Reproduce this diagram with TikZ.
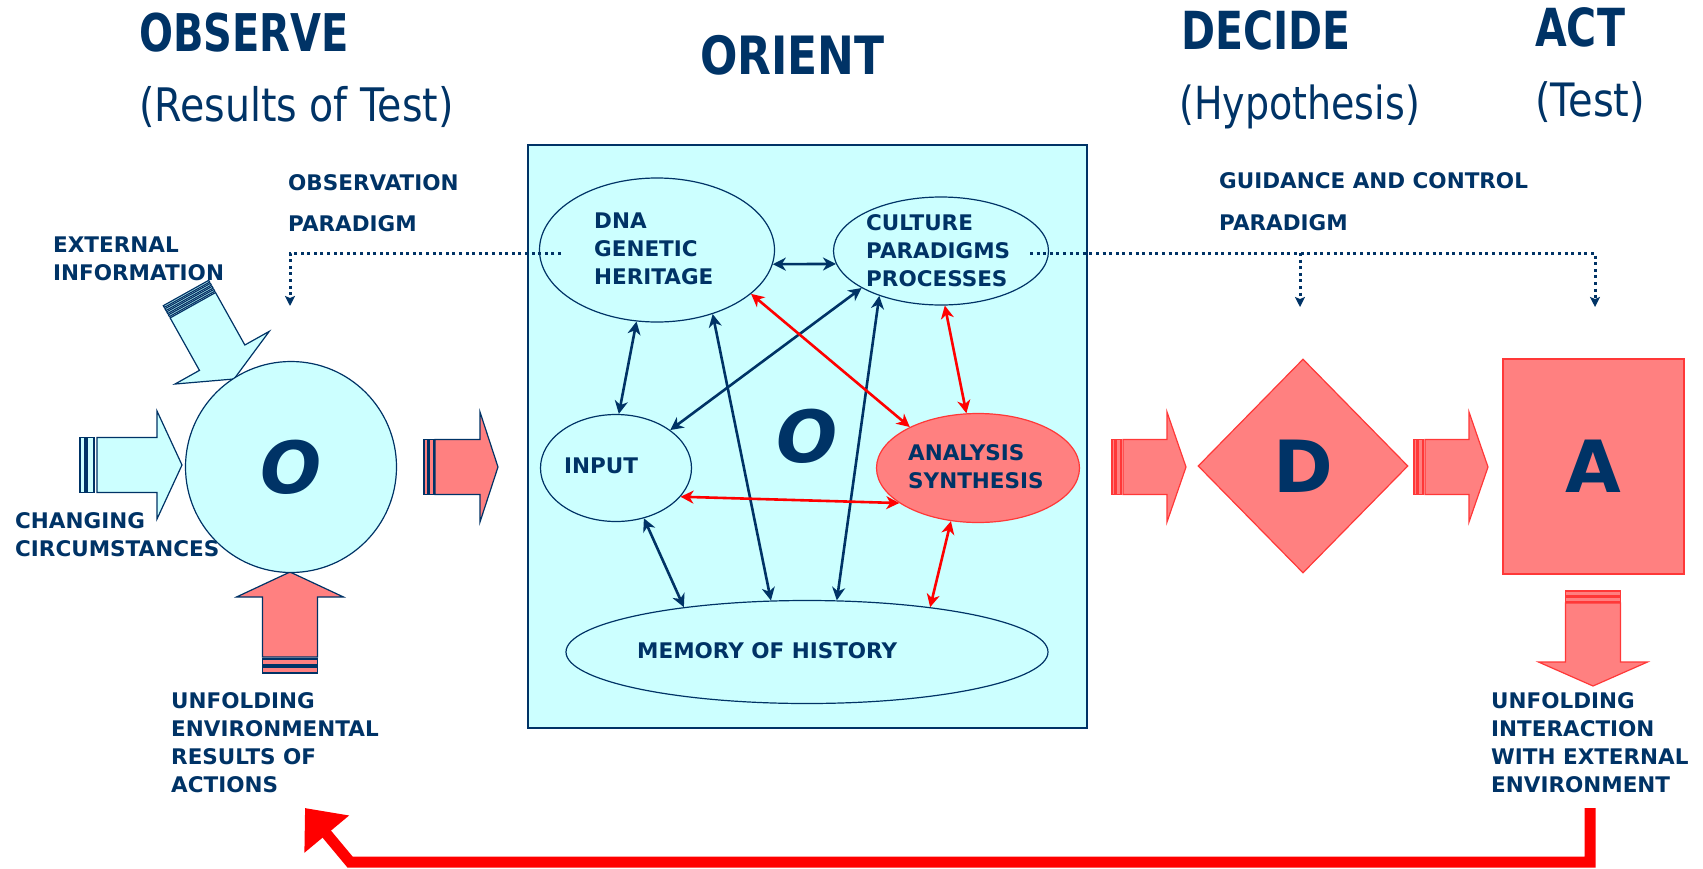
\documentclass[tikz,border=0pt]{standalone}
\usepackage{fontspec}
\setmainfont{DejaVu Sans}
\usetikzlibrary{arrows.meta,shapes.geometric}
\definecolor{navy}{HTML}{003366}
\definecolor{cyanfill}{HTML}{CCFFFF}
\definecolor{salmon}{HTML}{FF8080}
\definecolor{redline}{HTML}{FF0000}
\definecolor{redstroke}{HTML}{FF3838}
\newcommand\ml[1]{\begin{tabular}[t]{@{}l@{}}#1\end{tabular}}
\tikzset{
  pics/barrow/.style args={#1/#2/#3/#4/#5}{code={
    \path[pic actions] (#1,-#4) -- ({#2-#3},-#4) -- ({#2-#3},-#5) -- (#2,0) -- ({#2-#3},#5) -- ({#2-#3},#4) -- (#1,#4) -- cycle;
  }},
  pics/bar/.style args={#1/#2/#3}{code={
    \path[pic actions] (#1,-#3) rectangle (#2,#3);
  }},
}
\begin{document}
\begin{tikzpicture}[x=1pt,y=-1pt,
  lab/.style={font=\fontsize{21.5}{28}\selectfont\bfseries, text=navy, inner sep=0pt, anchor=base west},
  ttl/.style={font=\fontsize{41}{41}\selectfont\bfseries, text=navy, inner sep=0pt, anchor=base west},
  sub/.style={font=\fontsize{38}{38}\selectfont, text=navy, inner sep=0pt, anchor=base west},
  big/.style={font=\fontsize{72}{72}\selectfont\bfseries, text=navy},
  ell/.style={ellipse, draw=navy, line width=1.2pt, fill=cyanfill, inner sep=0pt},
  nav/.style={draw=navy, line width=2.6pt, {Stealth[length=13pt,width=13pt,inset=4pt]}-{Stealth[length=13pt,width=13pt,inset=4pt]}},
  redarr/.style={nav, draw=redline},
  dots/.style={draw=navy, line width=3pt, dash pattern=on 3pt off 3.6pt, -{Stealth[length=10pt,width=10pt,inset=2pt]}},
  cyanarrow/.style={transform shape, fill=cyanfill, draw=navy, line width=1.2pt},
  salarrow/.style={transform shape, fill=salmon, draw=navy, line width=1.2pt},
  salarrowr/.style={transform shape, fill=salmon, draw=redstroke, line width=1.2pt},
  fb/.style={draw=redline, line width=11pt, line join=miter, -{Triangle[length=34pt,width=56pt]}},
]
\useasboundingbox (0,0) rectangle (1703,868);

% ---------- titles ----------
\node[ttl, font=\fontsize{40}{40}\selectfont\bfseries] (tobs) at (139,51) {\scalebox{1}[1.3]{OBSERVE}};
\node[sub, font=\fontsize{39.5}{40}\selectfont] (sobs) at (139,121) {\scalebox{1}[1.17]{(Results of Test)}};
\node[ttl, font=\fontsize{44}{44}\selectfont\bfseries] (tori) at (700,74) {\scalebox{1}[1.2]{ORIENT}};
\node[ttl] (tdec) at (1181,49) {\scalebox{1}[1.28]{DECIDE}};
\node[ttl] (tact) at (1535,46) {\scalebox{1}[1.28]{ACT}};
\node[sub] (sdec) at (1179,119) {\scalebox{1}[1.2]{(Hypothesis)}};
\node[sub, font=\fontsize{40}{40}\selectfont] (sact) at (1535,116) {\scalebox{1}[1.15]{(Test)}};

% ---------- observe side block arrows ----------
\begin{scope}[shift={(80,465)}]
  \pic[cyanarrow] {bar=0/5/27.5};
  \pic[cyanarrow] {bar=7/14/27.5};
  \pic[cyanarrow] {barrow=17/102/25/27.5/54};
\end{scope}
\begin{scope}[shift={(186,293)}, rotate=-60.8]
  \pic[cyanarrow] {bar=0/2/26};
  \pic[cyanarrow] {bar=3.5/5.5/26};
  \pic[cyanarrow] {bar=7/9/26};
  \pic[cyanarrow] {bar=10.5/12.5/26};
  \pic[cyanarrow] {barrow=14/98.5/24.4/26/54};
\end{scope}
\begin{scope}[shift={(290,673)}, rotate=90]
  \pic[salarrow] {bar=0/6/27.5};
  \pic[salarrow] {bar=8/14/27.5};
  \pic[salarrow] {barrow=16/101/25/27.5/53.5};
\end{scope}
\begin{scope}[shift={(424,467)}]
  \pic[salarrow] {bar=0/4/27.5};
  \pic[salarrow] {bar=5/10/27.5};
  \pic[salarrow] {barrow=11/74/18/27.5/55};
\end{scope}

% observe circle
\node[circle, draw=navy, fill=cyanfill, line width=1.2pt, minimum size=211pt, inner sep=0pt, big, font=\fontsize{72}{72}\selectfont\bfseries\itshape] (obs) at (291,467) {O};

% ---------- orient box ----------
\node[rectangle, draw=navy, fill=cyanfill, line width=1.5pt, minimum width=559pt, minimum height=583pt, inner sep=0pt] (obox) at (807.5,436.5) {};
\node[big, font=\fontsize{72}{72}\selectfont\bfseries\itshape] (obig) at (807,436) {O};

\node[ell, minimum width=235pt, minimum height=144pt] (dna) at (657,250) {};
\node[ell, minimum width=215pt, minimum height=108pt] (cul) at (941,251) {};
\node[ell, minimum width=151pt, minimum height=107pt] (inp) at (616,468) {};
\node[ell, draw=redstroke, fill=salmon, minimum width=203pt, minimum height=109pt] (ana) at (978,468) {};
\node[ell, minimum width=482pt, minimum height=103pt] (mem) at (807,652) {};

\node[lab] (tdna) at (594,228) {\ml{DNA\\GENETIC\\HERITAGE}};
\node[lab] (tcul) at (866,230) {\ml{CULTURE\\PARADIGMS\\PROCESSES}};
\node[lab] (tinp) at (564,473) {INPUT};
\node[lab] (tana) at (908,460) {\ml{ANALYSIS\\SYNTHESIS}};
\node[lab] (tmem) at (637,658) {MEMORY OF HISTORY};

% internal arrows
\draw[nav] (dna.-7) -- (cul.187);
\draw[nav] (dna.-106) -- (inp.87);
\draw[nav] (dna.-49) -- (mem.125);
\draw[nav] (cul.205) -- (inp.35);
\draw[nav] (cul.216) -- (mem.60);
\draw[redarr] (dna.-25) -- (ana.149);
\draw[redarr] (cul.-86) -- (ana.102);
\draw[redarr] (inp.-24) -- (ana.204);
\draw[nav] (inp.-61) -- (mem.160);
\draw[redarr] (ana.243) -- (mem.20);

% ---------- decide / act ----------
\begin{scope}[shift={(1112,467)}]
  \pic[salarrowr] {bar=0/3/27.5};
  \pic[salarrowr] {bar=4.5/9/27.5};
  \pic[salarrowr] {barrow=11/74/19/27.5/55};
\end{scope}
\begin{scope}[shift={(1414,467)}]
  \pic[salarrowr] {bar=0/3/27.5};
  \pic[salarrowr] {bar=4.5/9/27.5};
  \pic[salarrowr] {barrow=11/74/19/27.5/55};
\end{scope}
\begin{scope}[shift={(1593,591)}, rotate=-90]
  \pic[salarrowr] {bar=0/5/27.5};
  \pic[salarrowr] {bar=6.5/11/27.5};
  \pic[salarrowr] {barrow=12/95/24/27.5/54.5};
\end{scope}

\node[diamond, draw=redstroke, fill=salmon, line width=1.2pt, minimum width=210pt, minimum height=214pt, inner sep=0pt, big] (dec) at (1303,466) {D};
\node[rectangle, draw=redstroke, fill=salmon, line width=1.5pt, minimum width=181pt, minimum height=215pt, inner sep=0pt, big] (act) at (1593.5,466.5) {A};

% ---------- labels ----------
\node[lab] (lobs1) at (288,190) {OBSERVATION};
\node[lab] (lobs2) at (288,231) {PARADIGM};
\node[lab] (lext) at (53,252) {\ml{EXTERNAL\\INFORMATION}};
\node[lab] (lchg) at (15,528) {\ml{CHANGING\\CIRCUMSTANCES}};
\node[lab] (lunf) at (171,708) {\ml{UNFOLDING\\ENVIRONMENTAL\\RESULTS OF\\ACTIONS}};
\node[lab] (lgui1) at (1219,188) {GUIDANCE AND CONTROL};
\node[lab] (lgui2) at (1219,230) {PARADIGM};
\node[lab] (lint) at (1491,708) {\ml{UNFOLDING\\INTERACTION\\WITH EXTERNAL\\ENVIRONMENT}};

% ---------- dotted paradigm lines ----------
\coordinate (obsstart) at (561,253);
\coordinate (obsend) at (290,306);
\coordinate (guistart) at (1030,253);
\coordinate (decend) at (1300,307);
\coordinate (actend) at (1595,307);
\draw[dots] (obsstart) -| (obsend);
\draw[dots] (guistart) -| (actend);
\draw[dots] (decend |- guistart) -- (decend);

% ---------- feedback loop ----------
\coordinate (fbstart) at (1590,808);
\coordinate (fbc1) at (1590,862);
\coordinate (fbc2) at (350,862);
\coordinate (fbend) at (305,808);
\draw[fb] (fbstart) -- (fbc1) -- (fbc2) -- (fbend);
\end{tikzpicture}
\end{document}
